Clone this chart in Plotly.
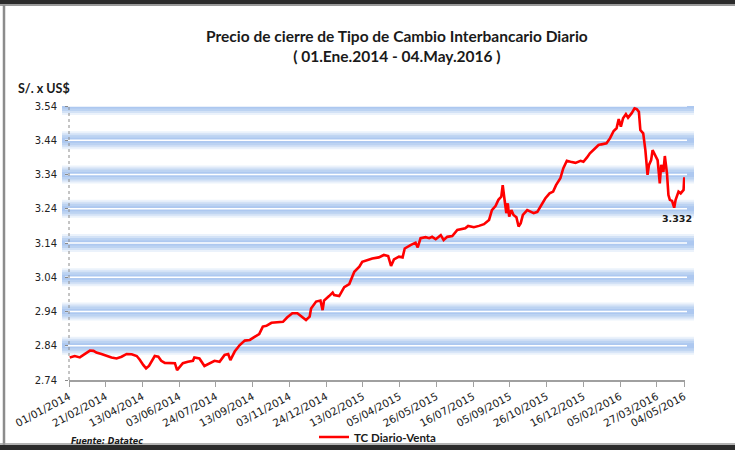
import plotly.graph_objects as go

# ---------------- data ----------------
dates = [
    "2014-01-02", "2014-01-09", "2014-01-16", "2014-01-23", "2014-01-30", "2014-02-04", "2014-02-08",
    "2014-02-15", "2014-02-22", "2014-03-01", "2014-03-08", "2014-03-15", "2014-03-22", "2014-03-29",
    "2014-04-05", "2014-04-09", "2014-04-14", "2014-04-18", "2014-04-22", "2014-04-25", "2014-04-30",
    "2014-05-05", "2014-05-09", "2014-05-14", "2014-05-21", "2014-05-28", "2014-05-31", "2014-06-04",
    "2014-06-08", "2014-06-15", "2014-06-22", "2014-06-24", "2014-07-01", "2014-07-08", "2014-07-15",
    "2014-07-22", "2014-07-29", "2014-08-05", "2014-08-10", "2014-08-13", "2014-08-19", "2014-08-26",
    "2014-09-02", "2014-09-09", "2014-09-15", "2014-09-22", "2014-09-27", "2014-10-02", "2014-10-09",
    "2014-10-18", "2014-10-25", "2014-10-31", "2014-11-07", "2014-11-14", "2014-11-19", "2014-11-26",
    "2014-12-01", "2014-12-03", "2014-12-10", "2014-12-16", "2014-12-19", "2014-12-21", "2014-12-28",
    "2015-01-02", "2015-01-04", "2015-01-11", "2015-01-18", "2015-01-25", "2015-02-01", "2015-02-08",
    "2015-02-12", "2015-02-19", "2015-02-26", "2015-03-07", "2015-03-14", "2015-03-20", "2015-03-24",
    "2015-03-28", "2015-04-04", "2015-04-09", "2015-04-12", "2015-04-20", "2015-04-27", "2015-04-30",
    "2015-05-04", "2015-05-11", "2015-05-16", "2015-05-20", "2015-05-25", "2015-06-01", "2015-06-05",
    "2015-06-10", "2015-06-17", "2015-06-24", "2015-07-01", "2015-07-05", "2015-07-09", "2015-07-17",
    "2015-07-24", "2015-07-31", "2015-08-07", "2015-08-11", "2015-08-16", "2015-08-20", "2015-08-24",
    "2015-08-26", "2015-08-28", "2015-08-31", "2015-09-02", "2015-09-04", "2015-09-07", "2015-09-10",
    "2015-09-14", "2015-09-17", "2015-09-20", "2015-09-23", "2015-09-29", "2015-10-03", "2015-10-08",
    "2015-10-13", "2015-10-18", "2015-10-24", "2015-10-30", "2015-11-04", "2015-11-08", "2015-11-14",
    "2015-11-18", "2015-11-23", "2015-11-28", "2015-12-05", "2015-12-12", "2015-12-16", "2015-12-21",
    "2015-12-25", "2016-01-01", "2016-01-06", "2016-01-10", "2016-01-17", "2016-01-22", "2016-01-27",
    "2016-01-31", "2016-02-03", "2016-02-06", "2016-02-09", "2016-02-13", "2016-02-16", "2016-02-21",
    "2016-02-25", "2016-02-28", "2016-03-02", "2016-03-04", "2016-03-08", "2016-03-11", "2016-03-14",
    "2016-03-16", "2016-03-19", "2016-03-21", "2016-03-24", "2016-03-28", "2016-03-31", "2016-04-02",
    "2016-04-05", "2016-04-07", "2016-04-10", "2016-04-12", "2016-04-14", "2016-04-17", "2016-04-20",
    "2016-04-22", "2016-04-26", "2016-04-29", "2016-05-03", "2016-05-04",
]
tc_venta = [
    2.806, 2.810, 2.806, 2.816, 2.826, 2.825, 2.820,
    2.816, 2.810, 2.806, 2.803, 2.808, 2.816, 2.815,
    2.810, 2.800, 2.784, 2.774, 2.781, 2.793, 2.810,
    2.808, 2.796, 2.790, 2.789, 2.789, 2.769, 2.779,
    2.789, 2.793, 2.796, 2.806, 2.803, 2.781, 2.789,
    2.796, 2.793, 2.813, 2.816, 2.798, 2.823, 2.842,
    2.855, 2.857, 2.865, 2.874, 2.896, 2.898, 2.907,
    2.908, 2.910, 2.923, 2.935, 2.935, 2.927, 2.915,
    2.925, 2.949, 2.969, 2.972, 2.944, 2.972, 2.985,
    2.995, 2.988, 2.985, 3.011, 3.020, 3.056, 3.071,
    3.085, 3.090, 3.095, 3.098, 3.105, 3.102, 3.073,
    3.092, 3.100, 3.098, 3.124, 3.134, 3.141, 3.127,
    3.154, 3.157, 3.154, 3.158, 3.151, 3.163, 3.149,
    3.158, 3.160, 3.178, 3.180, 3.183, 3.190, 3.186,
    3.190, 3.195, 3.207, 3.236, 3.248, 3.266, 3.275,
    3.309, 3.275, 3.227, 3.256, 3.217, 3.236, 3.222,
    3.215, 3.188, 3.198, 3.222, 3.236, 3.231, 3.227,
    3.231, 3.248, 3.270, 3.285, 3.290, 3.309, 3.329,
    3.358, 3.380, 3.377, 3.374, 3.380, 3.377, 3.390,
    3.402, 3.416, 3.426, 3.428, 3.431, 3.446, 3.467,
    3.475, 3.502, 3.480, 3.504, 3.516, 3.506, 3.519,
    3.533, 3.531, 3.523, 3.470, 3.460, 3.411, 3.339,
    3.368, 3.382, 3.411, 3.397, 3.382, 3.314, 3.368,
    3.348, 3.394, 3.343, 3.280, 3.266, 3.263, 3.243,
    3.266, 3.290, 3.285, 3.295, 3.332,
]
series_name = "TC Diario-Venta"

x_tick_dates = [
    "2014-01-01", "2014-02-21", "2014-04-13", "2014-06-03", "2014-07-24", "2014-09-13",
    "2014-11-03", "2014-12-24", "2015-02-13", "2015-04-05", "2015-05-26", "2015-07-16",
    "2015-09-05", "2015-10-26", "2015-12-16", "2016-02-05", "2016-03-27", "2016-05-04",
]
x_tick_labels = [
    "01/01/2014", "21/02/2014", "13/04/2014", "03/06/2014", "24/07/2014", "13/09/2014",
    "03/11/2014", "24/12/2014", "13/02/2015", "05/04/2015", "26/05/2015", "16/07/2015",
    "05/09/2015", "26/10/2015", "16/12/2015", "05/02/2016", "27/03/2016", "04/05/2016",
]
y_ticks = [2.74, 2.84, 2.94, 3.04, 3.14, 3.24, 3.34, 3.44, 3.54]

title_lines = ["Precio de cierre de Tipo de Cambio Interbancario Diario",
               "( 01.Ene.2014 - 04.May.2016 )"]
y_title = "S/. x US$"
source_text = "Fuente: Datatec"

# ---------------- layout geometry ----------------
W, H = 735, 450
L, R, T, B = 69, 50, 106, 70
PW, PH = W - L - R, H - T - B


def px_x(p):
    return (p - L) / PW


def px_y(p):
    return (H - B - p) / PH


fig = go.Figure()
fig.add_trace(go.Scatter(
    x=dates, y=tc_venta, mode="lines", name="<b>" + series_name + "</b>",
    line=dict(color="#ff0000", width=2.6),
))

shapes = []
# glowing gridlines (skip the bottom axis value)
for yv in y_ticks[1:]:
    for w, col in [(18, "rgba(190,212,242,0.30)"), (14, "rgba(175,203,240,0.40)"),
                   (10, "rgba(165,196,238,0.50)"), (5, "rgba(160,192,238,0.55)")]:
        shapes.append(dict(type="line", xref="paper", yref="y", x0=px_x(62), x1=px_x(694),
                           y0=yv, y1=yv, line=dict(color=col, width=w), layer="below"))
    shapes.append(dict(type="line", xref="paper", yref="y", x0=px_x(65), x1=px_x(687),
                       y0=yv, y1=yv, line=dict(color="#ffffff", width=1.5), layer="below"))
# dotted vertical axis line
shapes.append(dict(type="line", xref="paper", yref="paper", x0=0, x1=0, y0=0, y1=1,
                   line=dict(color="#8a8a8a", width=1, dash="dot")))
# frame of the picture
shapes.append(dict(type="rect", xref="paper", yref="paper", x0=px_x(-5), x1=px_x(740),
                   y0=px_y(4), y1=px_y(-5), fillcolor="#2b2b2b", line=dict(width=0)))
shapes.append(dict(type="line", xref="paper", yref="paper", x0=px_x(0), x1=px_x(735),
                   y0=px_y(5), y1=px_y(5), line=dict(color="#9a9a9a", width=2)))
shapes.append(dict(type="line", xref="paper", yref="paper", x0=px_x(4), x1=px_x(4),
                   y0=px_y(5), y1=px_y(445), line=dict(color="#8c8c8c", width=2.5)))
shapes.append(dict(type="rect", xref="paper", yref="paper", x0=px_x(-5), x1=px_x(740),
                   y0=px_y(455), y1=px_y(445), fillcolor="#2b2b2b", line=dict(width=0)))
shapes.append(dict(type="line", xref="paper", yref="paper", x0=px_x(0), x1=px_x(735),
                   y0=px_y(444), y1=px_y(444), line=dict(color="#9a9a9a", width=1.5)))

annotations = [
    dict(text="<b>" + title_lines[0] + "</b><br><b>" + title_lines[1] + "</b>",
         xref="paper", yref="paper", x=px_x(397), y=px_y(46), xanchor="center", yanchor="middle",
         showarrow=False, font=dict(family="Lato", size=15.5, color="#1a1a1a")),
    dict(text="<b>" + y_title + "</b>", xref="paper", yref="paper", x=px_x(16), y=px_y(88),
         xanchor="left", yanchor="middle", showarrow=False,
         font=dict(family="Lato", size=12.5, color="#1a1a1a")),
    dict(text="<b><i>" + source_text + "</i></b>", xref="paper", yref="paper", x=px_x(69), y=px_y(441),
         xanchor="left", yanchor="middle", showarrow=False,
         font=dict(family="DejaVu Sans", size=8, color="#1a1a1a")),
    dict(text="<b>%.3f</b>" % tc_venta[-1], xref="x", yref="y", x=dates[-1], y=tc_venta[-1],
         xanchor="center", yanchor="middle", xshift=-7, yshift=-41, showarrow=False,
         font=dict(family="DejaVu Sans", size=9.5, color="#1a1a1a")),
]

fig.update_layout(
    width=W, height=H,
    margin=dict(l=L, r=R, t=T, b=B, autoexpand=False),
    paper_bgcolor="#ffffff", plot_bgcolor="#ffffff",
    showlegend=True,
    legend=dict(orientation="h", x=px_x(314), y=px_y(437), xanchor="left", yanchor="middle",
                bgcolor="rgba(0,0,0,0)", itemwidth=30,
                font=dict(family="Lato", size=11.5, color="#1a1a1a"),
                itemclick=False),
    shapes=shapes,
    annotations=annotations,
    xaxis=dict(
        type="date", range=["2014-01-01", "2016-05-05"],
        tickmode="array", tickvals=x_tick_dates, ticktext=x_tick_labels,
        tickangle=-28, ticks="outside", ticklen=5, tickcolor="#a0a0a0",
        showline=True, linecolor="#a0a0a0", linewidth=1.5,
        showgrid=False, zeroline=False,
        tickfont=dict(family="DejaVu Sans", size=10.5, color="#222222"),
    ),
    yaxis=dict(
        range=[2.74, 3.54], tickmode="array", tickvals=y_ticks,
        ticktext=["%.2f" % v for v in y_ticks],
        ticks="outside", ticklen=3, tickcolor="#8a8a8a",
        showline=False, showgrid=False, zeroline=False,
        tickfont=dict(family="DejaVu Sans", size=10, color="#222222"),
        ticklabelstandoff=6,
    ),
)

fig.write_html("out.html", config={"displayModeBar": False},
               post_script="document.body.style.margin='0px';document.body.style.overflow='hidden';")
